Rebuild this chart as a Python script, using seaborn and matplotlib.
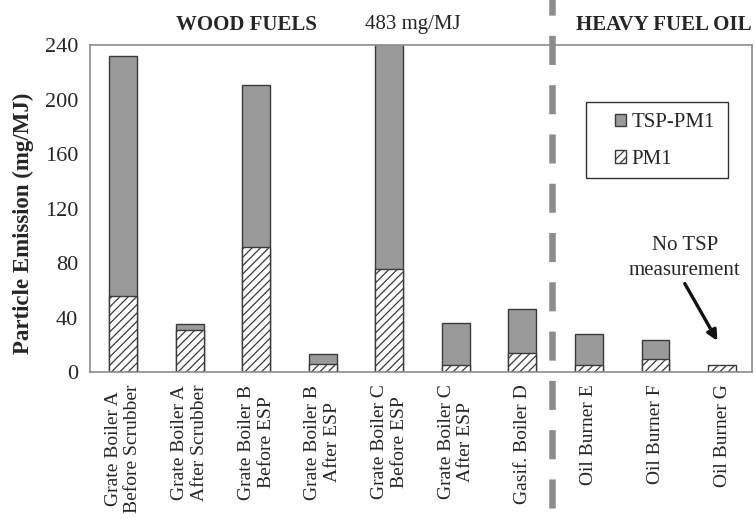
import numpy as np
import pandas as pd
import matplotlib
matplotlib.use("Agg")
import matplotlib.pyplot as plt
import seaborn as sns
from matplotlib.patches import Patch, Rectangle

# Emission sources (two-line labels) and measured particle emissions, mg/MJ
sources = [
    "Grate Boiler A\nBefore Scrubber",
    "Grate Boiler A\nAfter Scrubber",
    "Grate Boiler B\nBefore ESP",
    "Grate Boiler B\nAfter ESP",
    "Grate Boiler C\nBefore ESP",
    "Grate Boiler C\nAfter ESP",
    "Gasif. Boiler D",
    "Oil Burner E",
    "Oil Burner F",
    "Oil Burner G",
]
tsp = [232, 35, 211, 13, 483, 36, 46, 28, 23.5, np.nan]   # total suspended particles
pm1 = [56, 31, 92, 6, 76, 5, 14, 5, 9.5, 5]             # fine fraction
yticks = [0, 40, 80, 120, 160, 200, 240]

df = pd.DataFrame({"source": sources, "TSP": tsp, "PM1": pm1})

sns.set_theme(style="white")
plt.rcParams["font.family"] = ["Liberation Serif", "DejaVu Serif"]
plt.rcParams["hatch.linewidth"] = 0.9

fig = plt.figure(figsize=(7.55, 5.19), dpi=100)
ax = fig.add_axes([0.119, 0.283, 0.877, 0.630])

bar_gray = "#9a9a9a"
edge = "#3a3a3a"
fs = 15

# Full TSP bar; the PM1 part is drawn over its lower section, leaving TSP-PM1 gray on top
sns.barplot(data=df, x="source", y="TSP", color=bar_gray, saturation=1,
            width=0.42, edgecolor=edge, linewidth=1.0, ax=ax, errorbar=None)
sns.barplot(data=df, x="source", y="PM1", color="white", saturation=1,
            width=0.42, edgecolor=edge, linewidth=1.0, ax=ax, errorbar=None,
            hatch="////")
for p in ax.patches:
    if p.get_hatch():
        p.set_facecolor("white")

ax.set_ylim(0, 240)
ax.set_xlim(-0.5, 9.45)
ax.set_yticks(yticks)
ax.set_yticklabels([str(v) for v in yticks], fontsize=16)
ax.set_xlabel("")
ax.set_ylabel("Particle Emission (mg/MJ)", fontsize=16.5, fontweight="bold")
ax.yaxis.set_label_coords(-0.085, 0.455)

ax.set_xticks(range(len(sources)))
ax.set_xticklabels(sources, rotation=90, fontsize=14, ha="center", va="top",
                   multialignment="center", linespacing=1.2)
ax.tick_params(axis="x", length=0, pad=9)
ax.tick_params(axis="y", length=7, direction="inout", width=1, color="#808080", pad=5)

for s in ax.spines.values():
    s.set_visible(True)
    s.set_color("#8c8c8c")
    s.set_linewidth(1.2)

# Divider between wood fuels and heavy fuel oil
ax.axvline(6.45, ymin=-0.416, ymax=1.15, color="#8c8c8c", linewidth=4.7,
           linestyle=(0, (4.45, 3.1)), clip_on=False, zorder=5)

ax.text(1.86, 1.062, "WOOD FUELS", transform=ax.get_xaxis_transform(),
        ha="center", va="center", fontsize=fs, fontweight="bold")
ax.text(4.35, 1.062, "483 mg/MJ", transform=ax.get_xaxis_transform(),
        ha="center", va="center", fontsize=fs)
ax.text(8.12, 1.062, "HEAVY FUEL OIL", transform=ax.get_xaxis_transform(),
        ha="center", va="center", fontsize=fs, fontweight="bold")

ax.text(8.44, 84, "No TSP\nmeasurement", ha="center", va="center",
        fontsize=fs, linespacing=1.45)
ax.annotate("", xy=(8.93, 23), xytext=(8.44, 65),
            arrowprops=dict(arrowstyle="-|>", color="#111111", lw=2.4,
                            mutation_scale=15, shrinkA=0, shrinkB=0))

# Legend: entries placed inside a separately drawn frame
ax.add_patch(Rectangle((0.749, 0.593), 0.215, 0.233, transform=ax.transAxes,
                       facecolor="white", edgecolor="#333333", linewidth=1.0,
                       zorder=6))
handles = [Patch(facecolor=bar_gray, edgecolor=edge, label="TSP-PM1"),
           Patch(facecolor="white", edgecolor=edge, hatch="////", label="PM1")]
leg = ax.legend(handles=handles, loc="center left", bbox_to_anchor=(0.793, 0.706),
                fontsize=fs, frameon=False, handlelength=0.55,
                handleheight=0.55, handletextpad=0.25, borderpad=0,
                labelspacing=0.85, borderaxespad=0)
leg.set_zorder(7)

fig.savefig("out.png", dpi=100)
